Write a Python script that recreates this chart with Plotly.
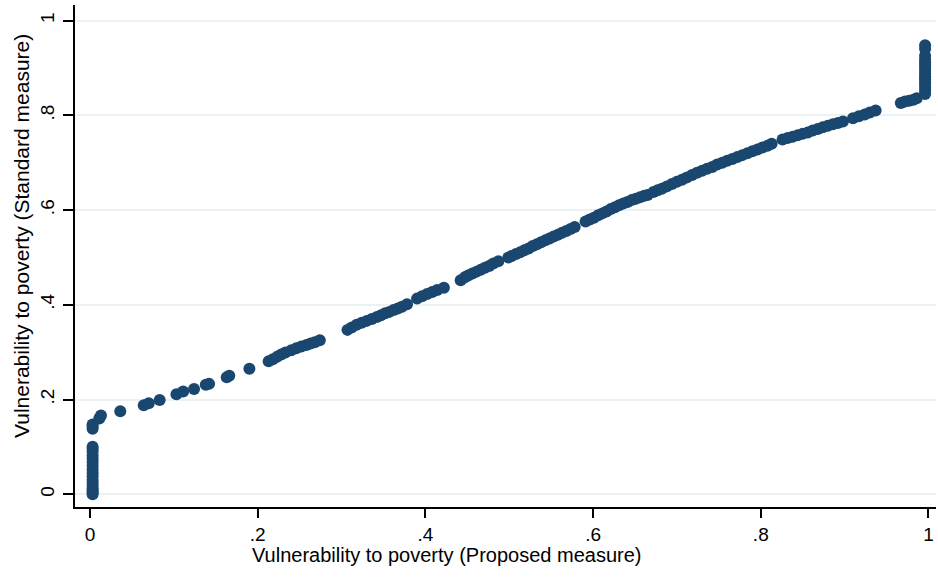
import plotly.graph_objects as go

# Vulnerability to poverty: proposed measure (x) vs standard measure (y)
proposed = [
    0.003, 0.003, 0.003, 0.003, 0.003, 0.003, 0.003, 0.003, 0.003, 0.003,
    0.003, 0.003, 0.003, 0.003, 0.003, 0.003, 0.003, 0.003, 0.003, 0.003,
    0.011, 0.013, 0.036, 0.064, 0.070, 0.083, 0.103, 0.111, 0.124, 0.138,
    0.142, 0.163, 0.166, 0.190, 0.213, 0.218, 0.223, 0.228, 0.233, 0.240,
    0.246, 0.252, 0.258, 0.263, 0.268, 0.274,
    0.307, 0.312, 0.318, 0.324, 0.330, 0.336, 0.342, 0.347, 0.352, 0.357,
    0.362, 0.367, 0.372, 0.378,
    0.390, 0.396, 0.402, 0.408, 0.414, 0.422,
    0.442, 0.447, 0.451, 0.456, 0.461, 0.466, 0.471, 0.476, 0.481, 0.487,
    0.499, 0.503, 0.508, 0.513, 0.518, 0.523, 0.528, 0.533, 0.538, 0.543,
    0.548, 0.553, 0.558, 0.563, 0.568, 0.573, 0.578,
    0.591, 0.596, 0.601, 0.606, 0.611, 0.616, 0.621, 0.626, 0.631, 0.636,
    0.641, 0.646, 0.651, 0.656, 0.661, 0.665,
    0.672, 0.677, 0.682, 0.688, 0.694, 0.700, 0.706, 0.712, 0.718, 0.724,
    0.730, 0.736, 0.742, 0.748, 0.754, 0.760, 0.766, 0.772, 0.778, 0.784,
    0.790, 0.796, 0.802, 0.808, 0.813,
    0.826, 0.832, 0.838, 0.844, 0.850, 0.856, 0.862, 0.868, 0.874, 0.880,
    0.886, 0.892, 0.898,
    0.910, 0.917, 0.924, 0.930, 0.937,
    0.967, 0.972, 0.977, 0.982, 0.986,
    0.996, 0.996, 0.996, 0.996, 0.996, 0.996, 0.996, 0.996, 0.996, 0.996,
    0.996, 0.996, 0.996, 0.996, 0.996, 0.996,
]
standard = [
    0.000, 0.004, 0.008, 0.012, 0.018, 0.024, 0.030, 0.038, 0.045, 0.052,
    0.060, 0.068, 0.075, 0.082, 0.090, 0.096, 0.100, 0.138, 0.143, 0.147,
    0.160, 0.166, 0.175, 0.188, 0.192, 0.199, 0.211, 0.217, 0.222, 0.231,
    0.233, 0.247, 0.250, 0.265, 0.281, 0.285, 0.290, 0.295, 0.299, 0.304,
    0.308, 0.312, 0.315, 0.318, 0.321, 0.325,
    0.347, 0.352, 0.358, 0.362, 0.366, 0.370, 0.374, 0.378, 0.382, 0.385,
    0.389, 0.392, 0.396, 0.401,
    0.413, 0.418, 0.423, 0.427, 0.431, 0.436,
    0.452, 0.458, 0.462, 0.466, 0.470, 0.474, 0.478, 0.482, 0.487, 0.492,
    0.500, 0.503, 0.507, 0.511, 0.515, 0.519, 0.524, 0.528, 0.532, 0.536,
    0.540, 0.544, 0.548, 0.552, 0.556, 0.560, 0.564,
    0.576, 0.580, 0.584, 0.589, 0.593, 0.597, 0.602, 0.606, 0.610, 0.614,
    0.617, 0.621, 0.624, 0.627, 0.630, 0.632,
    0.638, 0.642, 0.645, 0.650, 0.655, 0.660, 0.664, 0.669, 0.674, 0.679,
    0.683, 0.687, 0.691, 0.696, 0.700, 0.704, 0.708, 0.712, 0.716, 0.720,
    0.724, 0.728, 0.732, 0.736, 0.740,
    0.749, 0.752, 0.755, 0.758, 0.761, 0.764, 0.768, 0.771, 0.775, 0.778,
    0.781, 0.784, 0.787,
    0.794, 0.798, 0.802, 0.806, 0.810,
    0.826, 0.829, 0.831, 0.833, 0.836,
    0.845, 0.852, 0.858, 0.864, 0.870, 0.876, 0.882, 0.888, 0.894, 0.900,
    0.906, 0.912, 0.918, 0.926, 0.940, 0.948,
]

tick_vals = [0, 0.2, 0.4, 0.6, 0.8, 1]
tick_text = ["0", ".2", ".4", ".6", ".8", "1"]

x_title = "Vulnerability to poverty (Proposed measure)"
y_title = "Vulnerability to poverty (Standard measure)"

FAM = "Liberation Sans, Arial, sans-serif"

fig = go.Figure()
fig.add_trace(go.Scatter(
    x=proposed, y=standard, mode="markers",
    marker=dict(size=12, color="#1a476f", line=dict(width=0)),
    showlegend=False, hoverinfo="x+y",
))

W, H = 938, 581
L, R, T, B = 75, 2, 5, 74
pw, ph = W - L - R, H - T - B

fig.update_layout(
    width=W, height=H,
    margin=dict(l=L, r=R, t=T, b=B, autoexpand=False),
    paper_bgcolor="white", plot_bgcolor="white",
    font=dict(family=FAM, size=18, color="#000000"),
    xaxis=dict(
        range=[-0.018, 1.009],
        tickvals=tick_vals, ticktext=tick_text,
        showgrid=False, zeroline=False,
        showline=True, linecolor="black", linewidth=2,
        ticks="outside", ticklen=9, tickwidth=2, tickcolor="black",
        tickfont=dict(family=FAM, size=19),
    ),
    yaxis=dict(
        range=[-0.027, 1.033],
        tickvals=tick_vals, ticktext=tick_text,
        showgrid=True, gridcolor="#eaf2f3", gridwidth=2, zeroline=False,
        showline=True, linecolor="black", linewidth=2,
        ticks="outside", ticklen=10, tickwidth=2, tickcolor="black",
        tickangle=-90, ticklabelstandoff=1,
        tickfont=dict(family=FAM, size=19),
    ),
    annotations=[
        dict(text=x_title, xref="paper", yref="paper",
             x=(446 - L) / pw, y=(H - B - 555) / ph,
             xanchor="center", yanchor="middle", showarrow=False,
             font=dict(family=FAM, size=20, color="#000000")),
        dict(text=y_title, xref="paper", yref="paper",
             x=(21 - L) / pw, y=(H - B - 236) / ph, textangle=-90,
             xanchor="center", yanchor="middle", showarrow=False,
             font=dict(family=FAM, size=21, color="#000000")),
    ],
)

fig.write_html("out.html", config={"displayModeBar": False},
               post_script="document.body.style.margin='0px';")
